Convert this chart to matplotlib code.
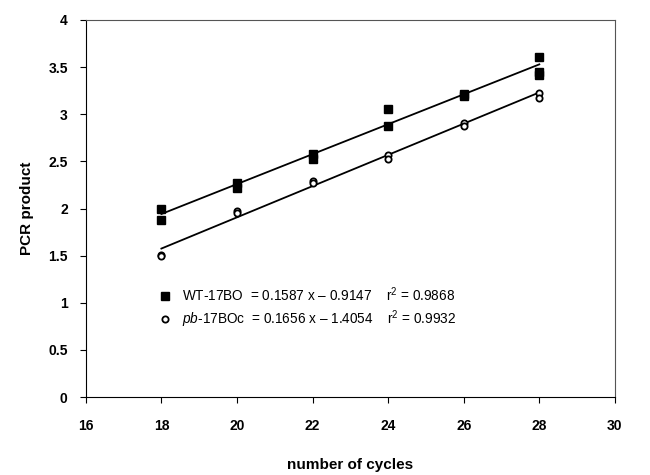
import matplotlib
matplotlib.use("Agg")
import matplotlib.pyplot as plt
from matplotlib.ticker import FormatStrFormatter
import numpy as np

plt.rcParams['font.family'] = ['Liberation Sans', 'DejaVu Sans']
plt.rcParams['mathtext.fontset'] = 'custom'
plt.rcParams['mathtext.rm'] = 'Liberation Sans'
plt.rcParams['mathtext.it'] = 'Liberation Sans:italic'

wt_cycles = [18, 18, 20, 20, 22, 22, 24, 24, 26, 26, 28, 28, 28]
wt_values = [1.99, 1.88, 2.27, 2.22, 2.58, 2.52, 3.06, 2.88, 3.21, 3.19, 3.61, 3.45, 3.42]
pb_cycles = [18, 18, 20, 20, 22, 22, 24, 24, 26, 26, 28, 28]
pb_values = [1.51, 1.50, 1.97, 1.95, 2.29, 2.27, 2.57, 2.52, 2.91, 2.87, 3.23, 3.17]

# fitted lines (from the figure legend)
wt_slope, wt_icept, wt_r2 = 0.1587, -0.9147, 0.9868
pb_slope, pb_icept, pb_r2 = 0.1656, -1.4054, 0.9932

fig = plt.figure(figsize=(6.5, 4.75), dpi=100)
ax = fig.add_axes([0.132, 0.164, 0.814, 0.794])

xfit = np.array([min(wt_cycles), max(wt_cycles)])
ax.plot(xfit, wt_slope * xfit + wt_icept, color='black', lw=1.3, zorder=2)
xfit = np.array([min(pb_cycles), max(pb_cycles)])
ax.plot(xfit, pb_slope * xfit + pb_icept, color='black', lw=1.3, zorder=2)

wt_label = f"WT-17BO  = {wt_slope} x \u2013 {abs(wt_icept)}    r$^2$ = {wt_r2}"
pb_label = f"$\\it{{pb}}$-17BOc  = {pb_slope} x \u2013 {abs(pb_icept)}    r$^2$ = {pb_r2}"
ax.plot(wt_cycles, wt_values, ls='none', marker='s', ms=5.2, color='black', zorder=3, label=wt_label)
ax.plot(pb_cycles, pb_values, ls='none', marker='o', ms=4.5, mfc='white', mec='black', mew=1.3,
        zorder=3, label=pb_label)

ax.set_xlim(16, 30)
ax.set_ylim(0, 4)
ax.set_xticks(np.arange(16, 31, 2))
ax.set_yticks(np.arange(0, 4.01, 0.5))
ax.yaxis.set_major_formatter(FormatStrFormatter('%g'))
ax.tick_params(direction='out', length=4, width=0.8, labelsize=10)
ax.tick_params(axis='x', pad=12)
ax.tick_params(axis='y', pad=9)
for lbl in ax.get_xticklabels() + ax.get_yticklabels():
    lbl.set_fontweight('bold')
for s in ax.spines.values():
    s.set_linewidth(0.8)
ax.spines['top'].set_color('#555555')
ax.spines['right'].set_color('#555555')

ax.set_xlabel('number of cycles', fontsize=11, fontweight='bold', labelpad=18)
ax.set_ylabel('PCR product', fontsize=11, fontweight='bold', labelpad=10)

ax.legend(loc='center left', bbox_to_anchor=(0.14, 0.237), frameon=False, fontsize=9.8,
          handlelength=0.8, handletextpad=0.8, labelspacing=0.35, borderpad=0, borderaxespad=0)

fig.savefig('out.png', dpi=100)
